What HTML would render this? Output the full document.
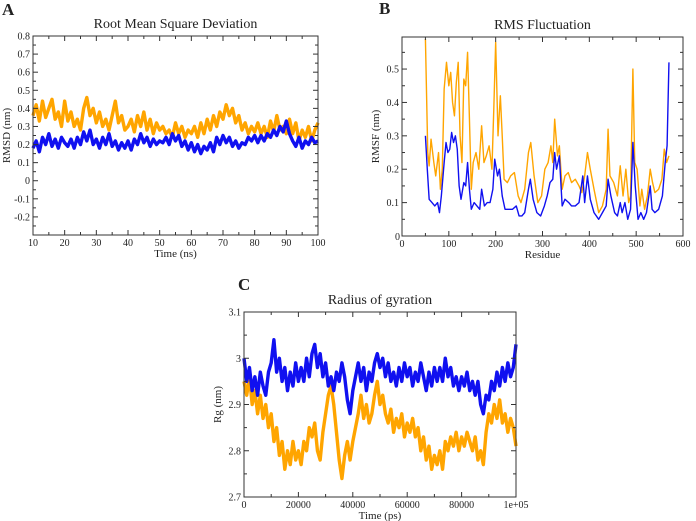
<!DOCTYPE html>
<html><head><meta charset="utf-8"><style>
html,body{margin:0;padding:0;background:#fff;width:696px;height:521px;overflow:hidden}
svg text{font-family:"Liberation Serif",serif;fill:#222}
</style></head><body>
<svg id="fig" width="696" height="521" viewBox="0 0 696 521" xmlns="http://www.w3.org/2000/svg"></svg>
<script>
// ---- Panel A data (RMSD, 10..100 ns, 1 ns step)
const rmsdOrange=[.36,.42,.33,.44,.35,.40,.45,.34,.38,.30,.44,
.33,.38,.30,.34,.28,.40,.46,.36,.40,.32,
.38,.30,.34,.28,.36,.44,.32,.36,.28,.30,
.34,.27,.36,.30,.38,.28,.34,.26,.32,.28,
.30,.26,.28,.24,.32,.26,.30,.24,.28,.26,
.30,.24,.32,.26,.34,.28,.36,.30,.38,.34,
.42,.36,.40,.32,.36,.28,.32,.26,.30,.27,
.32,.26,.30,.24,.33,.27,.36,.28,.30,.26,
.34,.26,.32,.22,.28,.24,.30,.22,.28,.32];
const rmsdBlue=[.18,.22,.16,.24,.20,.26,.19,.23,.18,.24,.21,
.19,.23,.18,.24,.20,.27,.22,.28,.20,.23,
.18,.24,.20,.26,.19,.22,.17,.21,.18,.22,
.17,.23,.20,.26,.21,.24,.19,.23,.20,.22,
.21,.24,.20,.26,.22,.25,.19,.22,.17,.21,
.16,.20,.15,.19,.17,.21,.16,.24,.20,.25,
.21,.24,.19,.22,.18,.21,.20,.24,.22,.25,
.21,.25,.22,.26,.24,.28,.25,.30,.27,.33,
.26,.22,.19,.24,.18,.22,.20,.24,.21,.22];
const aXTicks=[10,20,30,40,50,60,70,80,90,100];
const aYTicks=[-0.2,-0.1,0,0.1,0.2,0.3,0.4,0.5,0.6,0.7,0.8];
// ---- Panel B data (RMSF)
const resOrange=[50,55,58,62,68,72,78,82,86,90,95,100,104,108,112,116,120,124,128,132,136,140,144,148,152,158,164,170,175,180,186,192,196,200,205,210,214,218,225,232,240,248,254,262,270,275,282,290,298,305,312,318,322,326,332,336,342,348,355,362,370,378,384,390,396,402,410,420,428,436,440,444,452,460,466,472,478,484,488,493,497,502,508,512,518,524,530,535,540,548,555,560,565,570];
const rmsfOrange=[.59,.25,.21,.29,.22,.18,.25,.14,.20,.44,.52,.45,.49,.40,.36,.46,.52,.30,.22,.47,.45,.55,.35,.14,.22,.25,.20,.33,.22,.24,.27,.20,.38,.58,.30,.42,.30,.17,.16,.18,.19,.12,.10,.14,.25,.28,.18,.10,.12,.20,.22,.27,.22,.35,.24,.27,.14,.18,.19,.16,.17,.15,.13,.18,.25,.20,.14,.07,.09,.14,.32,.18,.16,.12,.21,.12,.20,.10,.12,.50,.22,.20,.09,.14,.08,.12,.20,.16,.13,.14,.17,.26,.22,.24];
const resBlue=[50,54,58,64,70,76,80,84,90,94,98,102,106,110,114,118,122,126,132,136,140,144,148,154,160,166,170,176,182,188,194,198,204,208,214,220,228,236,244,250,256,262,270,274,280,288,296,304,310,316,322,326,330,336,342,348,356,362,370,378,386,390,396,402,410,420,428,436,440,446,454,460,466,470,476,482,488,493,498,504,510,516,522,530,534,540,548,556,562,566,570];
const rmsfBlue=[.30,.20,.11,.10,.09,.10,.07,.12,.22,.28,.25,.26,.31,.28,.30,.26,.15,.11,.16,.15,.22,.14,.08,.10,.09,.08,.14,.09,.10,.10,.14,.23,.18,.20,.12,.08,.08,.08,.09,.06,.06,.07,.14,.17,.11,.07,.06,.09,.12,.16,.17,.25,.20,.24,.09,.11,.10,.09,.09,.10,.18,.10,.18,.11,.07,.05,.07,.09,.17,.12,.07,.06,.10,.07,.10,.05,.08,.28,.15,.05,.07,.05,.07,.15,.08,.07,.08,.12,.22,.27,.52];
const bXTicks=[0,100,200,300,400,500,600];
const bYTicks=[0.1,0.2,0.3,0.4,0.5];
// ---- Panel C data (Rg, 0..100000 ps, 1000 ps step)
const rgOrange=[2.95,2.92,2.96,2.90,2.93,2.88,2.92,2.87,2.90,2.85,2.88,
2.82,2.85,2.79,2.82,2.76,2.80,2.77,2.82,2.78,2.80,
2.77,2.82,2.80,2.85,2.83,2.86,2.80,2.78,2.84,2.88,
2.92,2.94,2.90,2.84,2.78,2.74,2.79,2.82,2.78,2.82,
2.85,2.88,2.92,2.87,2.90,2.86,2.88,2.92,2.95,2.90,
2.92,2.88,2.86,2.89,2.84,2.87,2.85,2.88,2.83,2.86,
2.84,2.87,2.83,2.85,2.80,2.83,2.78,2.81,2.76,2.79,
2.77,2.80,2.76,2.82,2.80,2.83,2.81,2.84,2.80,2.83,
2.81,2.84,2.82,2.80,2.83,2.78,2.80,2.77,2.84,2.88,
2.86,2.90,2.87,2.91,2.86,2.88,2.84,2.87,2.85,2.81];
const rgBlue=[3.00,2.95,2.98,2.93,2.96,2.92,2.97,2.94,2.92,2.97,2.99,
3.04,2.97,3.00,2.95,2.98,2.93,2.97,2.94,2.99,2.95,
2.98,2.95,3.00,2.96,3.01,3.03,2.98,3.01,2.96,2.99,
2.94,2.96,2.93,2.97,2.95,2.99,2.96,2.91,2.88,2.93,
2.96,2.99,2.95,2.98,2.93,2.97,2.95,2.99,3.01,2.98,
3.00,2.96,2.99,2.95,2.97,2.94,2.98,2.95,2.99,2.96,
2.98,2.94,2.97,2.95,2.99,2.96,2.93,2.97,2.94,2.98,
2.95,2.98,2.95,3.00,2.96,2.98,2.94,2.96,2.93,2.96,
2.94,2.97,2.93,2.95,2.92,2.95,2.90,2.88,2.92,2.91,
2.95,2.93,2.97,2.94,2.98,2.95,2.99,2.96,2.98,3.03];
const cXTicks=[0,20000,40000,60000,80000,100000];
const cXLabels=["0","20000","40000","60000","80000","1e+05"];
const cYTicks=[2.7,2.8,2.9,3.0,3.1];
const cYLabels=["2.7","2.8","2.9","3","3.1"];

const NS="http://www.w3.org/2000/svg";
const svg=document.getElementById('fig');
function mk(tag,attrs,parent){const e=document.createElementNS(NS,tag);for(const k in attrs)e.setAttribute(k,attrs[k]);(parent||svg).appendChild(e);return e;}
function txt(s,x,y,size,anchor,parent,extra){const t=mk('text',Object.assign({x:x,y:y,'font-size':size,'text-anchor':anchor||'middle'},extra||{}),parent);t.textContent=s;return t;}

function panel(cfg){
  const g=mk('g',{});
  
  
  const sx=v=>cfg.L+(v-cfg.x0)/(cfg.x1-cfg.x0)*(cfg.R-cfg.L);
  const sy=v=>cfg.B-(v-cfg.y0)/(cfg.y1-cfg.y0)*(cfg.B-cfg.T);
  cfg.series.forEach(s=>{
    const d=s.ys.map((y,i)=>(i?'L':'M')+sx(s.xs[i]).toFixed(2)+' '+sy(y).toFixed(2)).join('');
    const p=mk('path',{d:d,fill:'none',stroke:s.color,'stroke-width':s.w,'stroke-linejoin':'round'},g);
    
    
  });
  const fr=mk('rect',{x:cfg.L,y:cfg.T,width:cfg.R-cfg.L,height:cfg.B-cfg.T,fill:'none',stroke:'#333','stroke-width':1},g);
  
  
  const xt=mk('g',{},g);
  
  
  cfg.xTicks.forEach((v,i)=>{
    const x=sx(v);
    mk('line',{x1:x,x2:x,y1:cfg.B,y2:cfg.B-5,stroke:'#333'},xt);
    mk('line',{x1:x,x2:x,y1:cfg.T,y2:cfg.T+5,stroke:'#333'},xt);
    if(i<cfg.xTicks.length-1){const xm=sx((v+cfg.xTicks[i+1])/2);
      mk('line',{x1:xm,x2:xm,y1:cfg.B,y2:cfg.B-3,stroke:'#333'},xt);
      mk('line',{x1:xm,x2:xm,y1:cfg.T,y2:cfg.T+3,stroke:'#333'},xt);}
    const lab=txt(cfg.xLabels?cfg.xLabels[i]:String(v),x,cfg.B+11,10,'middle',xt);
    
    
  });
  const yt=mk('g',{},g);
  
  
  cfg.yTicks.forEach((v,i)=>{
    const y=sy(v);
    mk('line',{x1:cfg.L,x2:cfg.L+5,y1:y,y2:y,stroke:'#333'},yt);
    mk('line',{x1:cfg.R,x2:cfg.R-5,y1:y,y2:y,stroke:'#333'},yt);
    const lab=txt(cfg.yLabels?cfg.yLabels[i]:String(Math.round(v*10)/10),cfg.L-3,y+3.5,10,'end',yt);
    
    
  });
  cfg.yMinor.forEach(v=>{const y=sy(v);
    mk('line',{x1:cfg.L,x2:cfg.L+3,y1:y,y2:y,stroke:'#333'},yt);
    mk('line',{x1:cfg.R,x2:cfg.R-3,y1:y,y2:y,stroke:'#333'},yt);});
  const t=txt(cfg.title,(cfg.L+cfg.R)/2,cfg.T-8,14,'middle',g);
  
  
  const xl=txt(cfg.xTitle,(cfg.L+cfg.R)/2,cfg.B+22,11,'middle',g);
  
  
  const yl=txt(cfg.yTitle,0,0,11,'middle',g,{transform:`translate(${cfg.L-23},${(cfg.T+cfg.B)/2}) rotate(-90)`});
  
  
  const pl=txt(cfg.letter,cfg.lx,cfg.ly,17,'start',g,{'font-weight':'bold'});
  
  
}
const aTimes=rmsdOrange.map((_,i)=>10+i);
const cTimes=rgOrange.map((_,i)=>i*1000);
panel({name:'panel-a-rmsd',L:33,R:318,T:36,B:235,x0:10,x1:100,y0:-0.3,y1:0.8,
  xTicks:aXTicks,yTicks:aYTicks,yMinor:[-0.25,-0.15,-0.05,0.05,0.15,0.25,0.35,0.45,0.55,0.65,0.75],
  title:'Root Mean Square Deviation',xTitle:'Time (ns)',yTitle:'RMSD (nm)',letter:'A',lx:2,ly:15,
  series:[{name:'rmsd-orange-line',xs:aTimes,ys:rmsdOrange,color:'#ffa500',w:3.4},{name:'rmsd-blue-line',xs:aTimes,ys:rmsdBlue,color:'#1010f0',w:3.4}]});
panel({name:'panel-b-rmsf',L:402,R:683,T:37,B:236,x0:0,x1:600,y0:0,y1:0.596,
  xTicks:bXTicks,yTicks:bYTicks,yMinor:[0.05,0.15,0.25,0.35,0.45,0.55],
  title:'RMS Fluctuation',xTitle:'Residue',yTitle:'RMSF (nm)',letter:'B',lx:379,ly:14,
  series:[{name:'rmsf-orange-line',xs:resOrange,ys:rmsfOrange,color:'#ffa500',w:1.4},{name:'rmsf-blue-line',xs:resBlue,ys:rmsfBlue,color:'#1010f0',w:1.4}]});
txt('0',400,240,10,'end');
panel({name:'panel-c-rg',L:244,R:516,T:312,B:497,x0:0,x1:100000,y0:2.7,y1:3.1,
  xTicks:cXTicks,xLabels:cXLabels,yTicks:cYTicks,yLabels:cYLabels,yMinor:[2.75,2.85,2.95,3.05],
  title:'Radius of gyration',xTitle:'Time (ps)',yTitle:'Rg (nm)',letter:'C',lx:238,ly:290,
  series:[{name:'rg-orange-line',xs:cTimes,ys:rgOrange,color:'#ffa500',w:3.4},{name:'rg-blue-line',xs:cTimes,ys:rgBlue,color:'#1010f0',w:3.4}]});
</script>
</body></html>
